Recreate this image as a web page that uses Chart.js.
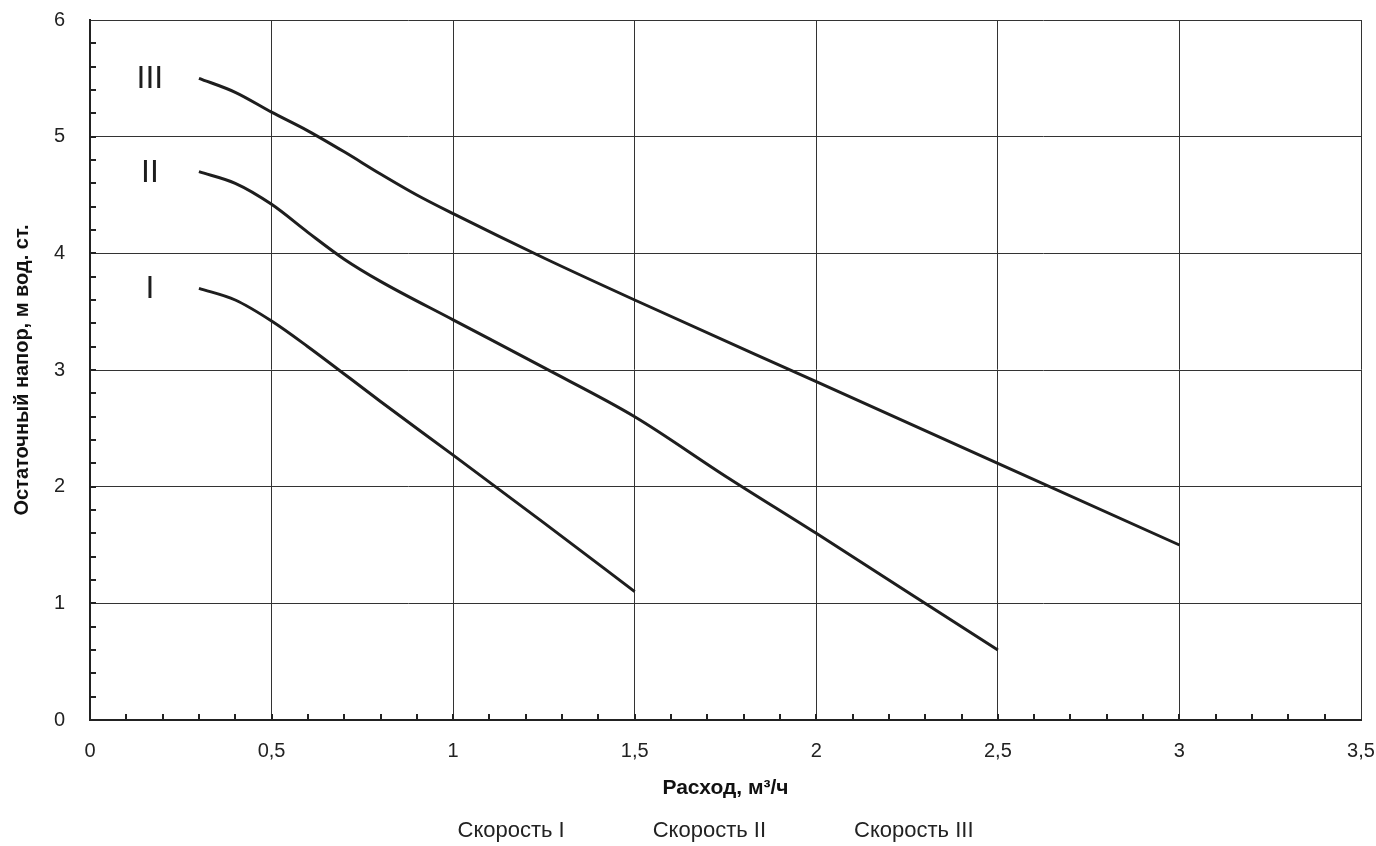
<!DOCTYPE html>
<html>
<head>
<meta charset="utf-8">
<script src="https://cdn.jsdelivr.net/npm/chart.js@4.4.0/dist/chart.umd.min.js"></script>
<style>
  html, body { margin: 0; padding: 0; background: #fff; overflow: hidden; }
  #wrap { width: 1376px; height: 846px; }
</style>
</head>
<body>
<div id="wrap"><canvas id="pumpChart" width="1376" height="846"></canvas></div>
<script>
// flow, m3/h and head, m for each speed
const flowI = [0.3, 0.4, 0.5, 0.6, 0.8, 1.0, 1.25, 1.5];
const headI = [3.7, 3.6, 3.42, 3.2, 2.73, 2.27, 1.69, 1.1];

const flowII = [0.3, 0.4, 0.5, 0.6, 0.7, 0.8, 1.0, 1.25, 1.5, 1.75, 2.0, 2.25, 2.5];
const headII = [4.7, 4.6, 4.42, 4.18, 3.95, 3.76, 3.43, 3.02, 2.6, 2.09, 1.6, 1.1, 0.6];

const flowIII = [0.3, 0.4, 0.5, 0.6, 0.7, 0.8, 0.9, 1.0, 1.25, 1.5, 2.0, 2.5, 3.0];
const headIII = [5.5, 5.38, 5.21, 5.05, 4.87, 4.68, 4.5, 4.34, 3.96, 3.6, 2.9, 2.2, 1.5];

const seriesNames = ["Скорость I", "Скорость II", "Скорость III"];
const curveTags = ["I", "II", "III"];
const tagX = 0.165;
const tagY = [3.69, 4.69, 5.49];

const xTicks = [0, 0.5, 1, 1.5, 2, 2.5, 3, 3.5];
const yTicks = [0, 1, 2, 3, 4, 5, 6];

const lineColor = "#1e1e1e";
const gridColor = "#333";
const fontFamily = "'Liberation Sans', Arial, sans-serif";

function toPoints(xs, ys) {
    return xs.map((x, i) => ({ x: x, y: ys[i] }));
}

function makeSet(label, xs, ys) {
    return {
        label: label,
        data: toPoints(xs, ys),
        borderColor: lineColor,
        backgroundColor: lineColor,
        borderWidth: 3,
        pointRadius: 0,
        fill: false,
        cubicInterpolationMode: "monotone"
    };
}

// small inward ticks on both axes + roman labels at the curve starts
const extras = {
    id: "extras",
    beforeDatasetsDraw(chart) {
        const ctx = chart.ctx;
        const xs = chart.scales.x, ys = chart.scales.y;
        const area = chart.chartArea;
        ctx.save();
        ctx.strokeStyle = "#222";
        ctx.lineWidth = 2;
        for (let i = 1; i < 35; i++) {
            const px = Math.round(xs.getPixelForValue(i / 10));
            ctx.beginPath();
            ctx.moveTo(px, area.bottom);
            ctx.lineTo(px, area.bottom - 6);
            ctx.stroke();
        }
        for (let i = 1; i < 30; i++) {
            const py = Math.round(ys.getPixelForValue(i / 5));
            ctx.beginPath();
            ctx.moveTo(area.left, py);
            ctx.lineTo(area.left + 6, py);
            ctx.stroke();
        }
        ctx.restore();
    },
    afterDraw(chart) {
        const ctx = chart.ctx;
        const xs = chart.scales.x, ys = chart.scales.y;
        ctx.save();
        ctx.fillStyle = "#1e1e1e";
        ctx.font = "32px " + fontFamily;
        ctx.textAlign = "center";
        ctx.textBaseline = "middle";
        curveTags.forEach((t, i) => {
            ctx.fillText(t, xs.getPixelForValue(tagX), ys.getPixelForValue(tagY[i]));
        });
        ctx.restore();
    }
};

const ctx = document.getElementById("pumpChart").getContext("2d");
new Chart(ctx, {
    type: "line",
    data: {
        datasets: [
            makeSet(seriesNames[0], flowI, headI),
            makeSet(seriesNames[1], flowII, headII),
            makeSet(seriesNames[2], flowIII, headIII)
        ]
    },
    options: {
        responsive: false,
        animation: false,
        layout: { padding: { left: -12, right: 15, top: 20, bottom: -6 } },
        scales: {
            x: {
                type: "linear",
                min: 0,
                max: 3.5,
                afterBuildTicks: s => { s.ticks = xTicks.map(v => ({ value: v })); },
                afterFit: s => { s.height = 94; s.paddingLeft = 0; s.paddingRight = 0; },
                grid: { color: gridColor, lineWidth: 1, drawTicks: false },
                border: { display: true, color: "#222", width: 2 },
                ticks: {
                    padding: 19,
                    color: "#222",
                    font: { family: fontFamily, size: 20 },
                    callback: v => String(v).replace(".", ",")
                },
                title: {
                    display: true,
                    text: "Расход, м³/ч",
                    color: "#111",
                    padding: { top: 0, bottom: 13 },
                    font: { family: fontFamily, size: 21, weight: "bold" }
                }
            },
            y: {
                min: 0,
                max: 6,
                afterBuildTicks: s => { s.ticks = yTicks.map(v => ({ value: v })); },
                afterFit: s => { s.width = 102; s.paddingTop = 0; s.paddingBottom = 0; },
                grid: { color: gridColor, lineWidth: 1, drawTicks: false },
                border: { display: true, color: "#222", width: 2 },
                ticks: {
                    padding: 25,
                    color: "#222",
                    font: { family: fontFamily, size: 20 }
                },
                title: {
                    display: true,
                    text: "Остаточный напор, м вод. ст.",
                    color: "#111",
                    padding: { top: 22, bottom: 0 },
                    font: { family: fontFamily, size: 20, weight: "bold" }
                }
            }
        },
        plugins: {
            legend: {
                position: "bottom",
                labels: {
                    color: "#222",
                    boxWidth: 71,
                    boxHeight: 1,
                    padding: 6,
                    font: { family: fontFamily, size: 22 },
                    generateLabels: chart => {
                        const items = Chart.defaults.plugins.legend.labels.generateLabels(chart);
                        items.forEach(it => {
                            it.fillStyle = "rgba(0,0,0,0)";
                            it.strokeStyle = "rgba(0,0,0,0)";
                        });
                        return items;
                    }
                }
            },
            tooltip: { enabled: false }
        }
    },
    plugins: [extras]
});
</script>
</body>
</html>
